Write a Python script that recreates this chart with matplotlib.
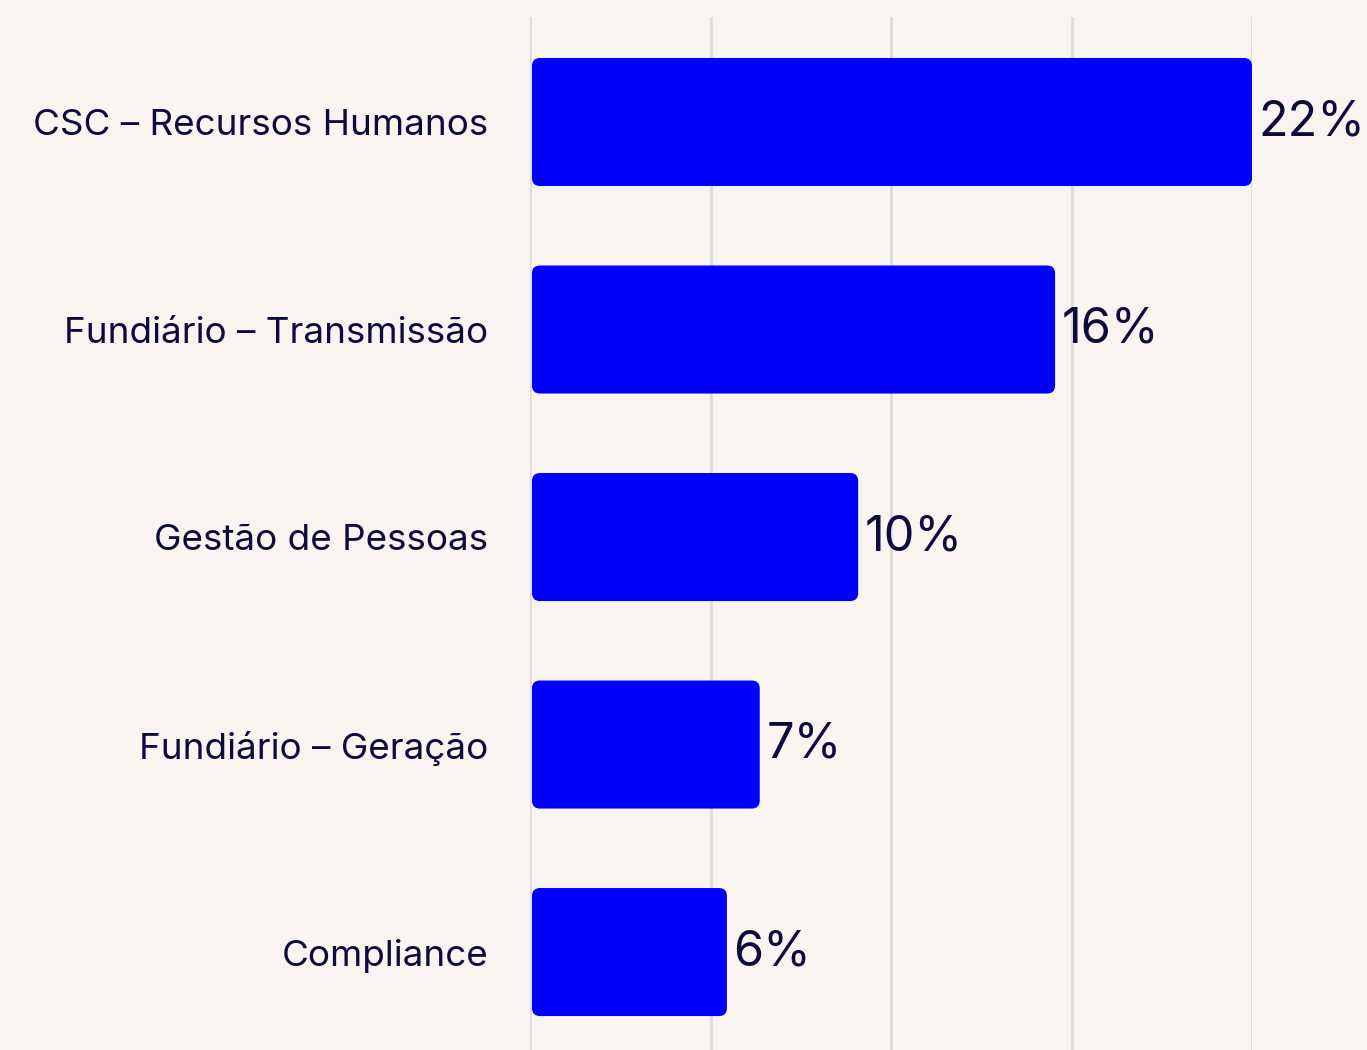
import matplotlib
matplotlib.use("Agg")
import matplotlib.pyplot as plt
from matplotlib.patches import FancyBboxPatch

categories = ["CSC – Recursos Humanos", "Fundiário – Transmissão", "Gestão de Pessoas",
              "Fundiário – Geração", "Compliance"]
values = [22, 16, 10, 7, 6]
grid_ticks = [0, 5.5, 11, 16.5, 22]

BG = "#F9F4F0"
BAR = "#0000FF"
TXT = "#0D0A3C"

plt.rcParams['font.family'] = ['Inter', 'DejaVu Sans']

fig = plt.figure(figsize=(13.67, 10.5), dpi=100, facecolor=BG)
ax = fig.add_axes([530/1367, 0, (1252-530)/1367, 1 - 17/1050])
ax.set_facecolor(BG)

ypos = list(range(len(categories)))
bars = ax.barh(ypos, values, height=0.617, color=BAR)

# swap plain bars for rounded ones
px_x = (1252 - 530) / 22.0
px_y = 207.5
for b in bars:
    x0, y0 = b.get_x(), b.get_y()
    w, h = b.get_width(), b.get_height()
    b.set_visible(False)
    r = 8 / px_x
    p = FancyBboxPatch((x0 + 0.06, y0), w - 0.06, h,
                       boxstyle="round,pad=0,rounding_size=%f" % r,
                       mutation_aspect=px_x / px_y,
                       facecolor=BAR, edgecolor="none", zorder=3)
    ax.add_patch(p)

for y, v in zip(ypos, values):
    ax.text(v + 0.2, y, "%d%%" % v, va="center", ha="left", fontsize=35,
            color=TXT, fontweight="normal", zorder=4)

ax.set_xlim(0, 22)
ax.set_ylim(4 + 0.472, -0.506)
ax.set_xticks(grid_ticks)
ax.set_xticklabels([])
ax.set_yticks(ypos)
ax.set_yticklabels(categories, fontsize=26.5, color=TXT)
ax.tick_params(axis="both", length=0)
ax.tick_params(axis="y", pad=30)
ax.grid(axis="x", color="#DCDCDC", linewidth=2.0, zorder=0)
ax.set_axisbelow(True)
for s in ax.spines.values():
    s.set_visible(False)

fig.savefig("out.png", dpi=100, facecolor=BG)
